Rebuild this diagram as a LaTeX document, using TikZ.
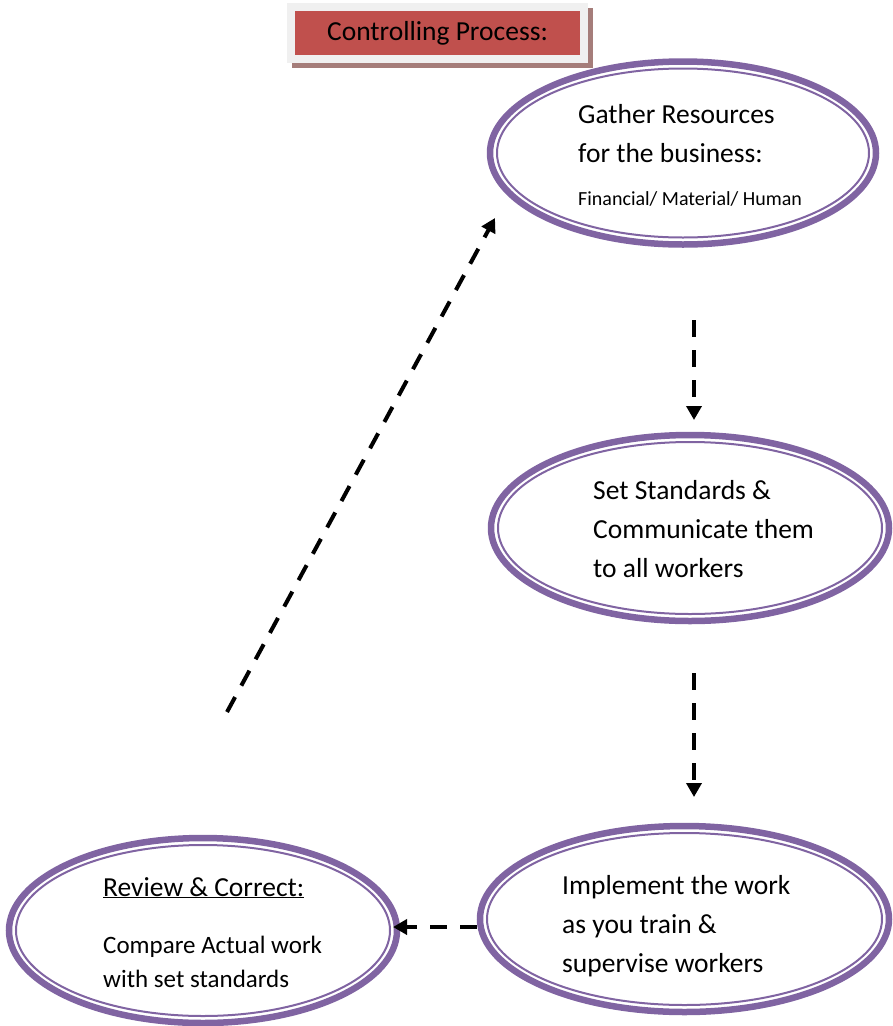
\documentclass[tikz,border=0pt]{standalone}
\usepackage{fontspec}
\setmainfont{Carlito}
\usetikzlibrary{arrows.meta,shapes.geometric,calc,positioning}
\definecolor{ringpurple}{RGB}{128,100,162}
\definecolor{boxred}{RGB}{192,80,77}
\definecolor{shadowred}{RGB}{165,125,122}
\definecolor{framegrey}{RGB}{240,240,240}

\tikzset{
  ring/.style={ellipse, draw=ringpurple, line width=6.5pt, inner sep=0pt,
    path picture={\draw[ringpurple, line width=2pt]
      let \p1=($(path picture bounding box.north east)-(path picture bounding box.center)$) in
      (path picture bounding box.center) ellipse [x radius=\x1-7pt, y radius=\y1-7pt];}},
  ringtext/.style={anchor=base west, align=left, inner sep=0pt,
    font=\fontsize{27.5}{39}\selectfont},
  smalltext/.style={anchor=base west, align=left, inner sep=0pt,
    font=\fontsize{25}{34}\selectfont},
  titlebox/.style={fill=boxred, minimum width=285pt, minimum height=44pt,
    inner sep=0pt, font=\fontsize{27.5}{33}\selectfont},
  flow/.style={line width=4pt, dash pattern=on 17pt off 13pt,
    -{Triangle[length=14pt, width=15pt]}},
}

\begin{document}
\begin{tikzpicture}[x=1pt, y=-1pt]
\useasboundingbox (0,0) rectangle (893,1026);

% title
\fill[shadowred] (292,8) rectangle (593,68);
\fill[framegrey] (287,3) rectangle (588,63);
\node[titlebox] (title) at (437.5,33) {Controlling Process:};

% the four steps
\node[ring, minimum width=386pt, minimum height=183pt] (gather) at (683,153) {};
\node[ring, minimum width=398pt, minimum height=186pt] (standards) at (690,528) {};
\node[ring, minimum width=409pt, minimum height=186pt] (implement) at (684.5,919) {};
\node[ring, minimum width=388pt, minimum height=185pt] (review) at (203,930.5) {};

% texts (base = last line)
\node[ringtext] (gathertext) at (578,162) {Gather Resources\\for the business:};
\node[ringtext, font=\fontsize{20}{24}\selectfont] (gathersub) at (578,205) {Financial/ Material/ Human};
\node[ringtext] (standardstext) at (593,577) {Set Standards \&\\Communicate them\\to all workers};
\node[ringtext] (implementtext) at (562,972) {Implement the work\\as you train \&\\supervise workers};
\node[ringtext] (reviewtext) at (103,896) {\underline{Review \& Correct:}};
\node[smalltext] (reviewsub) at (103,987) {Compare Actual work\\with set standards};

% arrows
\coordinate (a1s) at (694,320);
\coordinate (a1e) at (694,420);
\coordinate (a2s) at (694,673);
\coordinate (a2e) at (694,797);
\coordinate (a3e) at (393,927);
\coordinate (a4s) at (227,712);
\coordinate (a4e) at (495,218);
\draw[flow] (a1s) -- (a1e);
\draw[flow] (a2s) -- (a2e);
\draw[flow] (implement.west |- a3e) -- (a3e);
\draw[flow] (a4s) -- (a4e);
\end{tikzpicture}
\end{document}
